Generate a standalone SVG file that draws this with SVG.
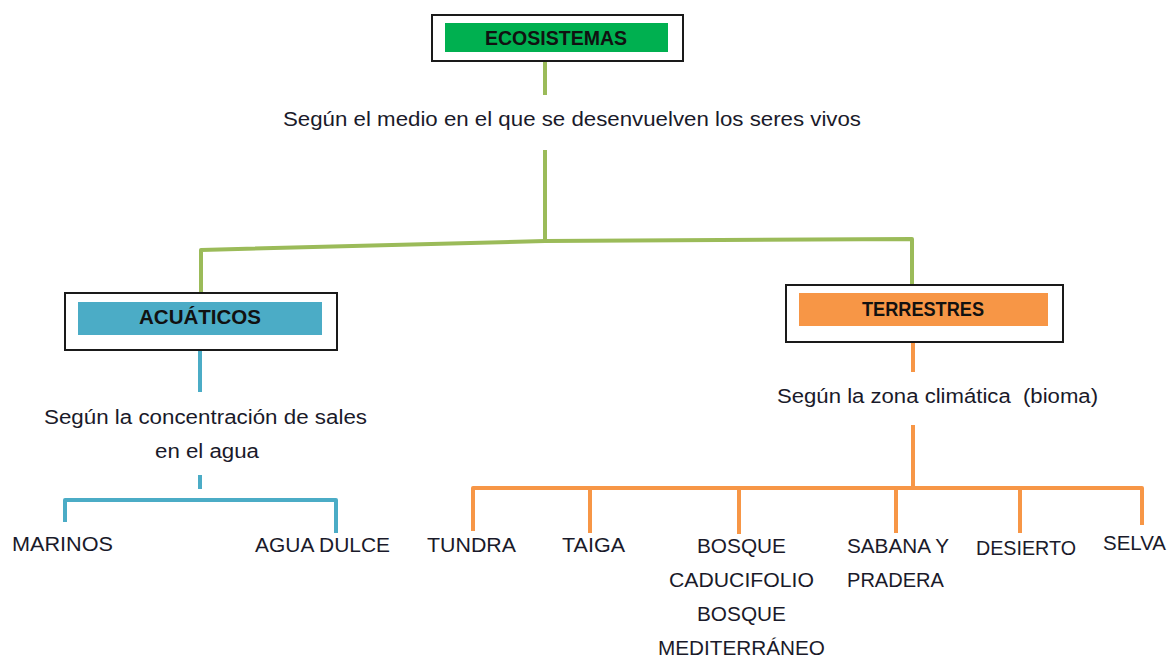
<svg xmlns="http://www.w3.org/2000/svg" width="1169" height="657" viewBox="0 0 1169 657">
<defs>
<style>
.frame{fill:#fff;stroke:#1a1a1a;stroke-width:2}
.t{font-family:"Liberation Sans",Arial,sans-serif;fill:#1a1a2a}
.h{font-family:"Liberation Sans",Arial,sans-serif;font-weight:bold;font-size:20px;fill:#111;text-anchor:middle}
.lab{font-size:20px}
.item{font-size:20px}
.g{fill:none;stroke:#9BBB59;stroke-width:4;stroke-linejoin:round}
.b{fill:none;stroke:#4BACC6;stroke-width:4;stroke-linejoin:round}
.o{fill:none;stroke:#F79646;stroke-width:4;stroke-linejoin:round}
</style>
</defs>
<rect width="1169" height="657" fill="#fff"/>
<g id="connectors">
<path class="g" d="M545 61 V95"/>
<path class="g" d="M545 150 V241"/>
<path class="g" d="M201 293 V250 L545 241 L912 239 V287"/>
<path class="b" d="M200 350 V392"/>
<path class="b" d="M200 475 V489"/>
<path class="b" d="M65 522 V500 H336 V533"/>
<path class="o" d="M913 342 V372"/>
<path class="o" d="M913 425 V489"/>
<path class="o" d="M473 531 V488 H1142 V525"/>
<path class="o" d="M590 488 V533"/>
<path class="o" d="M739 488 V534"/>
<path class="o" d="M896 489 V533"/>
<path class="o" d="M1020 489 V533"/>
</g>
<g id="ecosistemas">
<rect class="frame" x="432" y="15" width="251" height="46"/>
<rect x="445" y="23" width="223" height="29" fill="#00B050"/>
<text class="h" x="556" y="45" textLength="142" lengthAdjust="spacingAndGlyphs">ECOSISTEMAS</text>
</g>
<g id="label-medio">
<text class="t lab" x="283" y="126" textLength="578" lengthAdjust="spacingAndGlyphs">Según el medio en el que se desenvuelven los seres vivos</text>
</g>
<g id="acuaticos">
<rect class="frame" x="65" y="293" width="272" height="57"/>
<rect x="78" y="302" width="244" height="33" fill="#4BACC6"/>
<text class="h" x="200" y="324" textLength="122" lengthAdjust="spacingAndGlyphs">ACUÁTICOS</text>
</g>
<g id="label-sales">
<text class="t lab" x="44" y="424" textLength="323" lengthAdjust="spacingAndGlyphs">Según la concentración de sales</text>
<text class="t lab" x="155" y="458" textLength="104" lengthAdjust="spacingAndGlyphs">en el agua</text>
</g>
<g id="terrestres">
<rect class="frame" x="786" y="285" width="277" height="57"/>
<rect x="799" y="293" width="249" height="33" fill="#F79646"/>
<text class="h" x="923" y="316" textLength="122" lengthAdjust="spacingAndGlyphs">TERRESTRES</text>
</g>
<g id="label-bioma">
<text class="t lab" x="777" y="403" textLength="321" lengthAdjust="spacingAndGlyphs">Según la zona climática&#160; (bioma)</text>
</g>
<g id="marinos"><text class="t item" x="12" y="551" textLength="101" lengthAdjust="spacingAndGlyphs">MARINOS</text></g>
<g id="agua-dulce"><text class="t item" x="255" y="552" textLength="135" lengthAdjust="spacingAndGlyphs">AGUA DULCE</text></g>
<g id="tundra"><text class="t item" x="427" y="552" textLength="89" lengthAdjust="spacingAndGlyphs">TUNDRA</text></g>
<g id="taiga"><text class="t item" x="562" y="552" textLength="63" lengthAdjust="spacingAndGlyphs">TAIGA</text></g>
<g id="bosque">
<text class="t item" x="697" y="553" textLength="89" lengthAdjust="spacingAndGlyphs">BOSQUE</text>
<text class="t item" x="669" y="587" textLength="145" lengthAdjust="spacingAndGlyphs">CADUCIFOLIO</text>
<text class="t item" x="697" y="621" textLength="89" lengthAdjust="spacingAndGlyphs">BOSQUE</text>
<text class="t item" x="658" y="655" textLength="167" lengthAdjust="spacingAndGlyphs">MEDITERRÁNEO</text>
</g>
<g id="sabana">
<text class="t item" x="847" y="553" textLength="102" lengthAdjust="spacingAndGlyphs">SABANA Y</text>
<text class="t item" x="847" y="587" textLength="97" lengthAdjust="spacingAndGlyphs">PRADERA</text>
</g>
<g id="desierto"><text class="t item" x="976" y="555" textLength="100" lengthAdjust="spacingAndGlyphs">DESIERTO</text></g>
<g id="selva"><text class="t item" x="1103" y="550" textLength="63" lengthAdjust="spacingAndGlyphs">SELVA</text></g>
</svg>
